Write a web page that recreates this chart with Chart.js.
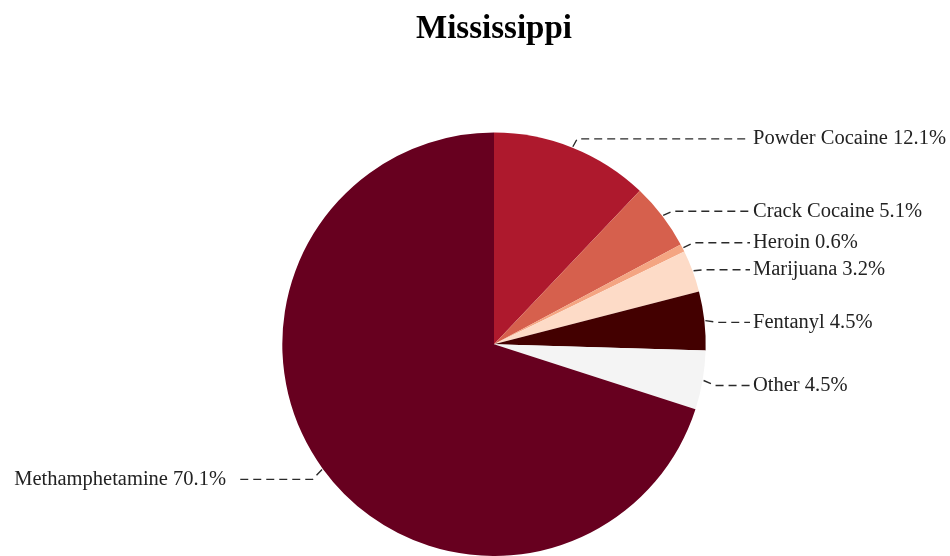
<!DOCTYPE html>
<html>
<head>
<meta charset="utf-8">
<script src="https://cdn.jsdelivr.net/npm/chart.js@4.4.1/dist/chart.umd.min.js"></script>
<style>
    body { margin: 0; background: #fff; }
    #divGrafico { width: 950px; height: 556px; }
</style>
</head>
<body>
<div id="divGrafico"><canvas id="grafico_"></canvas></div>
<script>

const categorias = ["Powder Cocaine", "Crack Cocaine", "Heroin", "Marijuana", "Fentanyl", "Other", "Methamphetamine"];
const porcentajes = [12.1, 5.1, 0.6, 3.2, 4.5, 4.5, 70.1];
const colores = ["#ae192d", "#d6604d", "#f4a582", "#fddbc7", "#430000", "#f4f4f4", "#67001f"];

// etiquetas con linea punteada hacia cada tajada
const etiquetasPlugin = {
    id: "etiquetas",
    afterDraw(chart) {
        const ctx = chart.ctx;
        const arcs = chart.getDatasetMeta(0).data;
        let items = [];

        arcs.forEach((arc, i) => {
            const medio = (arc.startAngle + arc.endAngle) / 2;
            const r = arc.outerRadius;
            const dx = Math.cos(medio), dy = Math.sin(medio);
            items.push({
                i: i,
                derecha: dx >= 0,
                x0: arc.x + dx * (r + 1),
                y0: arc.y + dy * (r + 1),
                x1: arc.x + dx * r * 1.06,
                y: arc.y + dy * r * 1.06 + 3
            });
        });

        // evitar que se encimen los textos
        [true, false].forEach(lado => {
            const grupo = items.filter(it => it.derecha === lado).sort((a, b) => a.y - b.y);
            for (let k = 1; k < grupo.length; k++) {
                if (grupo[k].y - grupo[k - 1].y < 27) grupo[k - 1].y = grupo[k].y - 27;
            }
        });

        ctx.save();
        ctx.font = "20.5px 'Liberation Serif'";
        ctx.textBaseline = "middle";
        items.forEach(it => {
            const texto = `${categorias[it.i]} ${porcentajes[it.i].toFixed(1)}%`;
            const xTexto = it.derecha ? 753 : 226;
            const xFin = it.derecha ? xTexto - 3 : xTexto + 12;

            ctx.strokeStyle = "#2a2a2a";
            ctx.lineWidth = 1.4;
            ctx.setLineDash([8, 5]);
            ctx.beginPath();
            ctx.moveTo(it.x0, it.y0);
            ctx.lineTo(it.x1, it.y);
            ctx.lineTo(xFin, it.y);
            ctx.stroke();

            ctx.setLineDash([]);
            ctx.fillStyle = "#222";
            ctx.textAlign = it.derecha ? "left" : "right";
            ctx.fillText(texto, xTexto, it.y);
        });
        ctx.restore();
    }
};

function grafico() {
    const ctx = document.getElementById("grafico_");

    new Chart(ctx, {
        type: "pie",
        plugins: [etiquetasPlugin],
        data: {
            labels: categorias,
            datasets: [{
                data: porcentajes,
                backgroundColor: colores,
                borderWidth: 0
            }]
        },
        options: {
            responsive: true,
            maintainAspectRatio: false,
            animation: false,
            layout: {
                padding: { top: 0, left: 38, right: 0, bottom: 0 }
            },
            plugins: {
                title: {
                    display: true,
                    text: "Mississippi",
                    color: "#000",
                    font: { family: "'Liberation Serif'", size: 33, weight: "bold" },
                    padding: { top: 10, bottom: 83 }
                },
                legend: { display: false },
                tooltip: { enabled: false }
            }
        }
    });
}

grafico();
</script>
</body>
</html>
